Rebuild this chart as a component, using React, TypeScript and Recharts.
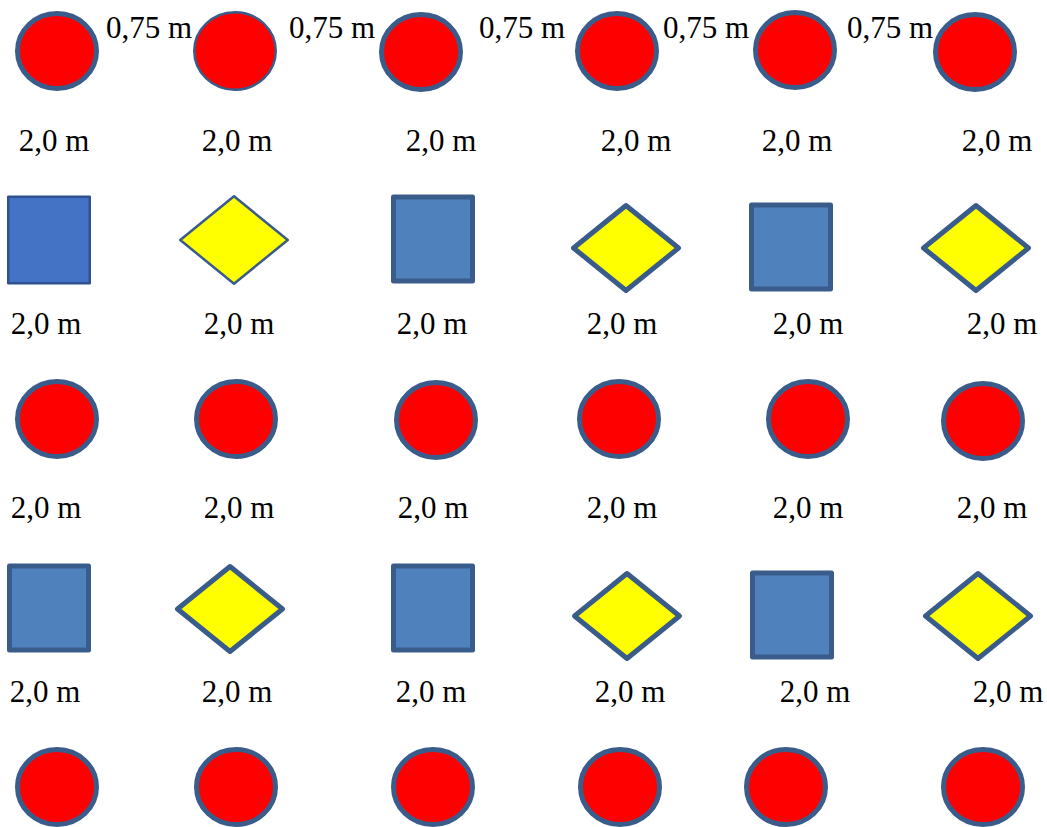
import { ScatterChart, Scatter, XAxis, YAxis } from "recharts"

// plant positions (drawing units, y grows downward)
const circles = [
  { x: 57, y: 51 }, { x: 421, y: 52 }, { x: 617, y: 51 }, { x: 795, y: 50 }, { x: 975, y: 52 },
  { x: 57, y: 419 }, { x: 236, y: 419 }, { x: 436, y: 420 }, { x: 619, y: 419 }, { x: 808, y: 419 }, { x: 983, y: 421 },
  { x: 57, y: 787 }, { x: 236, y: 787 }, { x: 433, y: 787 }, { x: 620, y: 787 }, { x: 786, y: 787 }, { x: 983, y: 787 },
]
const circlesThin = [{ x: 235, y: 51 }]

const squares = [
  { x: 433, y: 239 }, { x: 791, y: 247 },
  { x: 49, y: 608 }, { x: 433, y: 608 }, { x: 792, y: 615 },
]
const squaresThin = [{ x: 49, y: 240 }]

const diamonds = [
  { x: 626, y: 248 }, { x: 976, y: 248 },
  { x: 230, y: 609 }, { x: 627, y: 616 }, { x: 978, y: 616 },
]
const diamondsThin = [{ x: 234, y: 240 }]

// spacing annotations (x = text centre, y = baseline)
const plantSpacing = [
  { x: 149, y: 38, text: "0,75 m" },
  { x: 332, y: 38, text: "0,75 m" },
  { x: 522, y: 38, text: "0,75 m" },
  { x: 706, y: 38, text: "0,75 m" },
  { x: 890, y: 38, text: "0,75 m" },
]
const rowSpacing = [
  { x: 54, y: 151 }, { x: 237, y: 151 }, { x: 441, y: 151 }, { x: 636, y: 151 }, { x: 797, y: 151 }, { x: 997, y: 151 },
  { x: 46, y: 334 }, { x: 239, y: 334 }, { x: 432, y: 334 }, { x: 622, y: 334 }, { x: 808, y: 334 }, { x: 1002, y: 334 },
  { x: 46, y: 518 }, { x: 239, y: 518 }, { x: 433, y: 518 }, { x: 622, y: 518 }, { x: 808, y: 518 }, { x: 992, y: 518 },
  { x: 45, y: 702 }, { x: 237, y: 702 }, { x: 431, y: 702 }, { x: 630, y: 702 }, { x: 815, y: 702 }, { x: 1008, y: 702 },
].map((p) => ({ ...p, text: "2,0 m" }))

const OUTLINE = "#3A5C8B"
const SERIF = "Liberation Serif"

const Ellipse = (sw: number) => (props: any) => {
  const { cx, cy } = props
  return (
    <ellipse cx={cx} cy={cy} rx={42 - sw / 2} ry={40 - sw / 2} fill="#FF0000" stroke={OUTLINE} strokeWidth={sw} />
  )
}

const Square = (sw: number, fill: string, stroke: string) => (props: any) => {
  const { cx, cy } = props
  const w = 84 - sw
  const h = 89 - sw
  return (
    <rect x={cx - w / 2} y={cy - h / 2} width={w} height={h} fill={fill} stroke={stroke}
      strokeWidth={sw} strokeLinejoin="round" />
  )
}

const Diamond = (sw: number) => (props: any) => {
  const { cx, cy } = props
  const hw = (110 - sw) / 2
  const hh = (90 - sw) / 2
  return (
    <polygon points={`${cx - hw},${cy} ${cx},${cy - hh} ${cx + hw},${cy} ${cx},${cy + hh}`}
      fill="#FFFF00" stroke={OUTLINE} strokeWidth={sw} strokeLinejoin="round" />
  )
}

const Label = (props: any) => {
  const { cx, cy, payload } = props
  return (
    <text x={cx} y={cy} textAnchor="middle" fontFamily={SERIF} fontSize={31} fill="#000">
      {payload.text}
    </text>
  )
}

export default function App() {
  return (
    <div style={{ position: "absolute", left: 0, top: 0, background: "#fff", fontFamily: SERIF }}>
      <ScatterChart width={1047} height={827} margin={{ top: 0, right: 0, bottom: 0, left: 0 }}>
        <XAxis type="number" dataKey="x" domain={[0, 1047]} hide />
        <YAxis type="number" dataKey="y" domain={[0, 827]} reversed hide />
        <Scatter data={circles} shape={Ellipse(5)} isAnimationActive={false} />
        <Scatter data={circlesThin} shape={Ellipse(2.5)} isAnimationActive={false} />
        <Scatter data={squares} shape={Square(5, "#4F81BD", OUTLINE)} isAnimationActive={false} />
        <Scatter data={squaresThin} shape={Square(2.5, "#4472C4", "#2F528F")} isAnimationActive={false} />
        <Scatter data={diamonds} shape={Diamond(5)} isAnimationActive={false} />
        <Scatter data={diamondsThin} shape={Diamond(2.5)} isAnimationActive={false} />
        <Scatter data={plantSpacing} shape={Label} isAnimationActive={false} />
        <Scatter data={rowSpacing} shape={Label} isAnimationActive={false} />
      </ScatterChart>
    </div>
  )
}
